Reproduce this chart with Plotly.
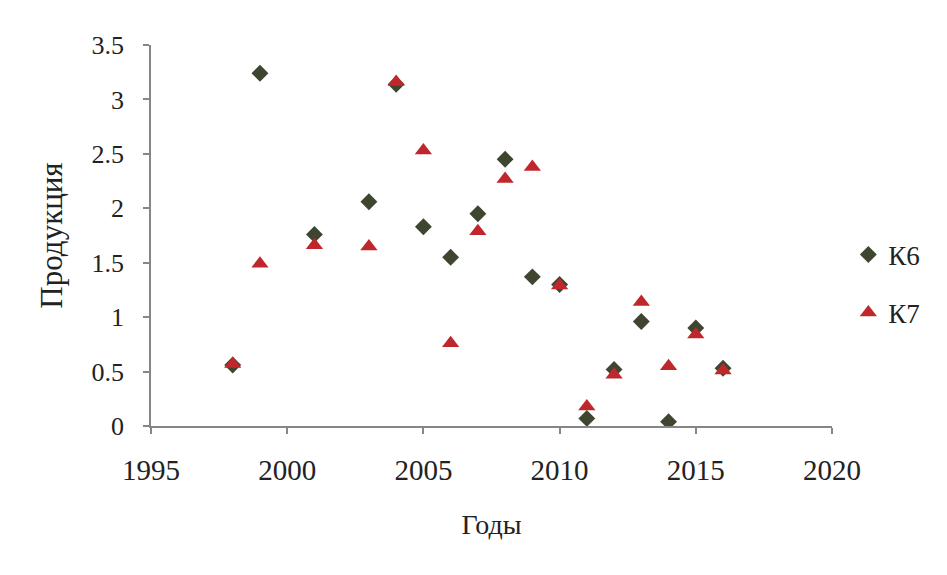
import plotly.graph_objects as go

years_k6 = [1998, 1999, 2001, 2003, 2004, 2005, 2006, 2007, 2008, 2009, 2010, 2011, 2012, 2013, 2014, 2015, 2016]
vals_k6 = [0.56, 3.24, 1.76, 2.06, 3.14, 1.83, 1.55, 1.95, 2.45, 1.37, 1.30, 0.07, 0.52, 0.96, 0.04, 0.90, 0.53]

years_k7 = [1998, 1999, 2001, 2003, 2004, 2005, 2006, 2007, 2008, 2009, 2010, 2011, 2012, 2013, 2014, 2015, 2016]
vals_k7 = [0.57, 1.49, 1.66, 1.65, 3.16, 2.53, 0.76, 1.79, 2.27, 2.38, 1.29, 0.18, 0.47, 1.14, 0.55, 0.84, 0.51]

x_ticks = [1995, 2000, 2005, 2010, 2015, 2020]
y_ticks = [0, 0.5, 1, 1.5, 2, 2.5, 3, 3.5]

FONT = "Liberation Serif, Times New Roman, serif"

fig = go.Figure()
fig.add_trace(go.Scatter(
    x=years_k6, y=vals_k6, mode="markers", name="К6", legendgroup="a",
    marker=dict(symbol="diamond", size=13, color="#3f4630"),
))
fig.add_trace(go.Scatter(
    x=years_k7, y=vals_k7, mode="markers", name="К7", legendgroup="b",
    marker=dict(symbol="triangle-up", size=15, color="#c0272d"),
))

axis_common = dict(
    showgrid=False, zeroline=False, showline=True, linecolor="#868686", linewidth=1.5,
    ticks="outside", ticklen=6, tickcolor="#868686", tickwidth=1.5, automargin=False,
)

fig.update_layout(
    width=947, height=575,
    paper_bgcolor="white", plot_bgcolor="white",
    margin=dict(l=143, r=123, t=37, b=157),
    font=dict(family=FONT, color="#222222"),
    xaxis=dict(range=[1995, 2020], tickvals=x_ticks, ticktext=[str(v) for v in x_ticks],
               tickfont=dict(family=FONT, size=29, color="#222222"),
               title=dict(text="Годы", font=dict(family=FONT, size=28), standoff=30),
               ticklabelstandoff=11, **axis_common),
    yaxis=dict(range=[0, 3.5], tickvals=y_ticks, ticktext=[("%g" % v) for v in y_ticks],
               tickfont=dict(family=FONT, size=26, color="#222222"),
               title=dict(text="Продукция", font=dict(family=FONT, size=31), standoff=20),
               ticklabelstandoff=14, **axis_common),
    legend=dict(x=1.024, y=0.373, xanchor="left", yanchor="middle",
                font=dict(family=FONT, size=27, color="#222222"),
                tracegroupgap=20, itemwidth=30, bgcolor="rgba(0,0,0,0)"),
    showlegend=True,
)

fig.write_html("out.html")
